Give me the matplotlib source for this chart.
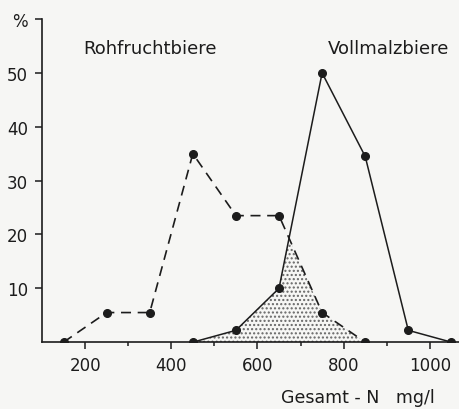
import numpy as np
import matplotlib.pyplot as plt

# Gesamt-N classes (mg/l) and share of beers (%)
n_roh = [150, 250, 350, 450, 550, 650, 750, 850]
pct_roh = [0, 5.5, 5.5, 35, 23.5, 23.5, 5.5, 0]

n_voll = [450, 550, 650, 750, 850, 950, 1050]
pct_voll = [0, 2.2, 10, 50, 34.5, 2.2, 0]

x_ticks = [200, 400, 600, 800, 1000]
x_minor = [300, 500, 700, 900]
y_ticks = [10, 20, 30, 40, 50, 60]
y_labels = ["10", "20", "30", "40", "50", "%"]

ink = "#1c1c1c"
paper = "#f6f6f4"

fig = plt.figure(figsize=(4.6, 4.1), dpi=100, facecolor=paper)
ax = fig.add_axes([0.0913, 0.163, 0.9087, 0.788])
ax.set_facecolor(paper)

# overlap of both distributions (stippled)
xs = np.linspace(450, 850, 801)
overlap = np.minimum(np.interp(xs, n_roh, pct_roh), np.interp(xs, n_voll, pct_voll))
ax.fill_between(xs, 0, overlap, facecolor=paper, edgecolor="#666666",
                hatch="....", linewidth=0)

ax.plot(n_roh, pct_roh, color=ink, lw=1.2, ls=(0, (6, 4)), marker="o",
        ms=5.5, mfc=ink, mec=ink)
ax.plot(n_voll, pct_voll, color=ink, lw=1.1, marker="o", ms=5.5, mfc=ink, mec=ink)

ax.set_xlim(100, 1070)
ax.set_ylim(0, 60)
ax.set_xticks(x_ticks)
ax.set_xticks(x_minor, minor=True)
ax.set_yticks(y_ticks)
ax.set_yticklabels(y_labels)

for s in ["top", "right"]:
    ax.spines[s].set_visible(False)
for s in ["left", "bottom"]:
    ax.spines[s].set_color(ink)
    ax.spines[s].set_linewidth(1.2)

ax.tick_params(axis="both", which="major", direction="out", length=5,
               width=1.1, color=ink, labelcolor=ink, labelsize=12)
ax.tick_params(axis="x", which="minor", direction="out", length=3,
               width=1.1, color=ink)
ax.tick_params(axis="x", pad=5)
ax.tick_params(axis="y", pad=5)

ax.text(350, 54.6, "Rohfruchtbiere", ha="center", va="center", fontsize=13, color=ink)
ax.text(905, 54.6, "Vollmalzbiere", ha="center", va="center", fontsize=13, color=ink)
ax.text(832, -10.2, "Gesamt - N   mg/l", ha="center", va="center", fontsize=12.5,
        color=ink, clip_on=False)

fig.savefig("out.png", dpi=100, facecolor=paper)
